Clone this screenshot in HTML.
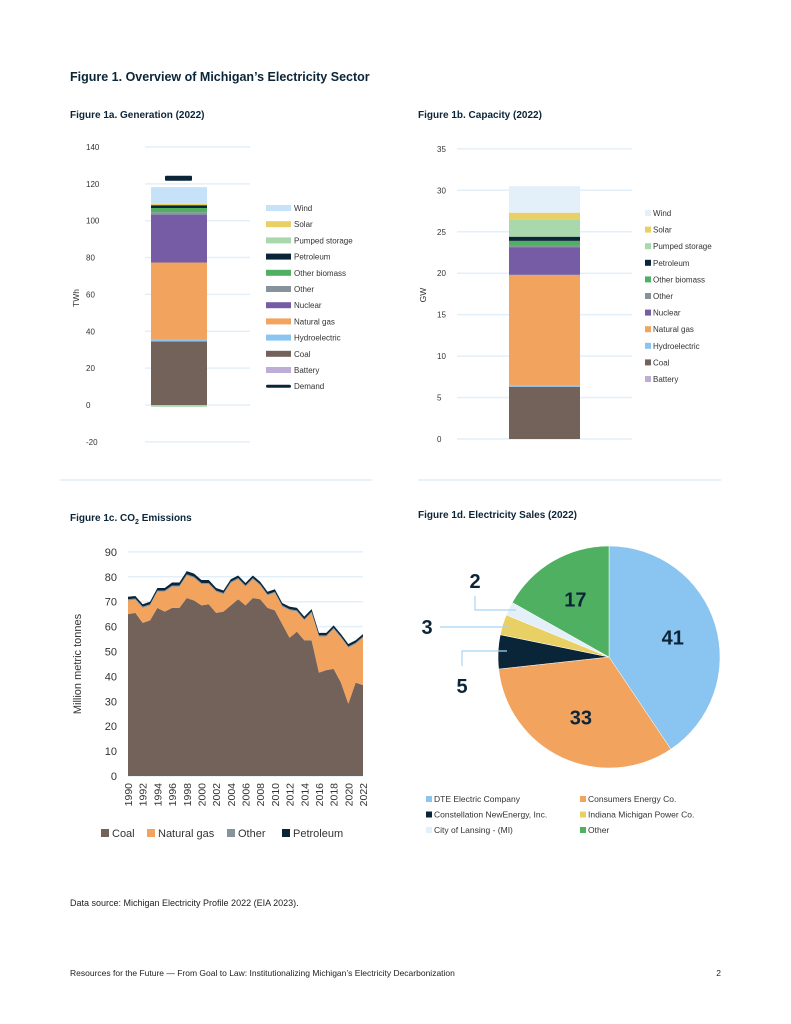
<!DOCTYPE html>
<html><head><meta charset="utf-8"><style>
body{margin:0;background:#fff;}
svg{display:block;font-family:"Liberation Sans",sans-serif;}
</style></head><body>
<svg id="s" width="791" height="1024" viewBox="0 0 791 1024">
<text x="70" y="81" font-size="12.5" font-weight="bold" fill="#0b2538">Figure 1. Overview of Michigan’s Electricity Sector</text>
<text x="70" y="118" font-size="10" font-weight="bold" fill="#0b2538">Figure 1a. Generation (2022)</text>
<text x="418" y="118" font-size="10" font-weight="bold" fill="#0b2538">Figure 1b. Capacity (2022)</text>
<text x="70" y="521" font-size="10" font-weight="bold" fill="#0b2538">Figure 1c. CO<tspan font-size="7" dy="3">2</tspan><tspan dy="-3"> Emissions</tspan></text>
<text x="418" y="518" font-size="10" font-weight="bold" fill="#0b2538">Figure 1d. Electricity Sales (2022)</text>
<line x1="60" y1="480" x2="372" y2="480" stroke="#d6e6f2"/>
<line x1="418" y1="480" x2="721" y2="480" stroke="#d6e6f2"/>
<g id="gen"></g><g id="cap"></g><g id="emi"></g><g id="pie"></g>
<text x="70" y="906" font-size="9" fill="#222">Data source: Michigan Electricity Profile 2022 (EIA 2023).</text>
<text x="70" y="976" font-size="8.5" fill="#222">Resources for the Future — From Goal to Law: Institutionalizing Michigan’s Electricity Decarbonization</text>
<text x="721" y="976" font-size="8.5" fill="#222" text-anchor="end">2</text>
</svg>
<script>
const NS="http://www.w3.org/2000/svg";
function mk(p,t,a){const e=document.createElementNS(NS,t);for(const k in a)e.setAttribute(k,a[k]);p.appendChild(e);return e;}
const srcNames=["Coal","Hydroelectric","Natural gas","Nuclear","Other","Other biomass","Petroleum","Pumped storage","Solar","Wind","Battery"];
const srcColors=["#72625a","#8ac4f0","#f2a35e","#765ca4","#87939b","#4fb062","#0b2538","#a8d8ac","#e8d065","#c6e2f8","#bcaed6"];
const genValues=[34.5,1.3,41.5,26,1.3,2.3,1.5,-1,0.8,9,0];
const genDemand=123;
const genTicks=[-20,0,20,40,60,80,100,120,140];
const capValues=[6.3,0.2,13.3,3.3,0.3,0.5,0.5,2.1,0.8,3.2,0];
const capTicks=[0,5,10,15,20,25,30,35];
const legendOrder=["Wind","Solar","Pumped storage","Petroleum","Other biomass","Other","Nuclear","Natural gas","Hydroelectric","Coal","Battery"];

function stackBar(g,vals,ticks,y0px,pxPer,gx1,gx2,bx,bw,axisLabel,lx,ly,leftTick,colors){
  const y=v=>y0px-v*pxPer;
  ticks.forEach(t=>{
    const l=mk(g,"line",{x1:gx1,x2:gx2,y1:y(t),y2:y(t),stroke:"#e3eff9","stroke-width":1.5});
    
    
    const tx=mk(g,"text",{x:leftTick,y:y(t)+3,"font-size":8,fill:"#333"});tx.textContent=t;
    
    
  });
  let pos=0,neg=0;
  vals.forEach((v,i)=>{
    if(v===0)return;
    let a,b;if(v>0){a=pos;b=pos+v;pos=b;}else{a=neg+v;b=neg;neg=a;}
    const r=mk(g,"rect",{x:bx,width:bw,y:y(b),height:y(a)-y(b),fill:colors[i]});
    
    
  });
  const at=mk(g,"text",{x:lx,y:ly,"font-size":8.5,fill:"#333",transform:`rotate(-90 ${lx} ${ly})`,"text-anchor":"middle"});at.textContent=axisLabel;
  
  
  return y;
}
const capColors=srcColors.slice();capColors[9]="#e3eff9";
// Generation
const gg=document.getElementById("gen");
const gy=stackBar(gg,genValues,genTicks,405,1.843,145,250,151,56,"TWh",79,298,86,srcColors);
const dm=mk(gg,"rect",{x:165,width:27,y:gy(genDemand)-2.5,height:5,rx:1,fill:"#0b2538"});


[...legendOrder,"Demand"].forEach((n,k)=>{
  const yy=208+k*16.2;const i=srcNames.indexOf(n);
  const sw=n==="Demand"?mk(gg,"rect",{x:266,y:yy-1.5,width:25,height:3,rx:1.5,fill:"#0b2538"}):mk(gg,"rect",{x:266,y:yy-3,width:25,height:6,fill:srcColors[i]});
  
  
  const t=mk(gg,"text",{x:294,y:yy+3,"font-size":8,fill:"#333"});t.textContent=n;
  
  
});
// Capacity
const cg=document.getElementById("cap");
stackBar(cg,capValues,capTicks,439,8.29,457,632,509,71,"GW",426,295,437,capColors);
legendOrder.forEach((n,k)=>{
  const yy=213+k*16.6;const i=srcNames.indexOf(n);
  const sw=mk(cg,"rect",{x:645,y:yy-3,width:6,height:6,fill:capColors[i]});
  
  
  const t=mk(cg,"text",{x:653,y:yy+3,"font-size":8,fill:"#333"});t.textContent=n;
  
  
});
// Emissions
const years=[];for(let yr=1990;yr<=2022;yr++)years.push(yr);
const emCoal=[65,65.5,61.5,62.5,67.5,66,67.5,67.5,71.5,70.5,68.5,69,65.5,66,68.5,71,68.5,71.5,71,67.5,66.5,61,55.5,58,54.5,54.5,41.5,42.5,43,37.5,29,37.5,36.5];
const emGas=[5.5,5.3,6,6,6.5,8,8.5,8.5,9,9,8.5,8,8.5,7,9,8,7.5,7.5,5.5,5,7,7,11,8,8,11,14.5,13.5,16,18,22.5,15.5,19];
const emOther=[0.5,0.5,0.5,0.5,0.5,0.5,0.5,0.5,0.5,0.5,0.5,0.5,0.5,0.5,0.5,0.5,0.5,0.5,0.5,0.5,0.5,0.5,0.5,0.5,0.5,0.5,0.5,0.5,0.5,0.5,0.5,0.5,0.5];
const emPetrol=[1,1,1,1,1,1,1.2,1.2,1.3,1.3,1.2,1.2,1,1,1,1,1,1,1,1,1,1,1,1,1,1,1,1,1,1,1,1,1];
const emTicks=[0,10,20,30,40,50,60,70,80,90];
const eg=document.getElementById("emi");
const ex=i=>128+i*(235/32), ey=v=>776-v*2.49;
emTicks.forEach(t=>{
  const l=mk(eg,"line",{x1:128,x2:363,y1:ey(t),y2:ey(t),stroke:"#e3eff9","stroke-width":1.5});
  
  
  const tx=mk(eg,"text",{x:117,y:ey(t)+4,"font-size":11,fill:"#333","text-anchor":"end"});tx.textContent=t;
  
  
});
const emSeries=[["coal",emCoal,"#72625a"],["natural-gas",emGas,"#f2a35e"],["other",emOther,"#87939b"],["petroleum",emPetrol,"#0b2538"]];
let base=years.map(()=>0);
emSeries.forEach(([nm,arr,c])=>{
  const top=base.map((b,i)=>b+arr[i]);
  let pts=top.map((v,i)=>ex(i)+","+ey(v));
  for(let i=years.length-1;i>=0;i--)pts.push(ex(i)+","+ey(base[i]));
  const p=mk(eg,"polygon",{points:pts.join(" "),fill:c});
  
  
  base=top;
});
years.forEach((yr,i)=>{if(i%2)return;
  const x=ex(i)+4,y=783;
  const t=mk(eg,"text",{x:x,y:y,"font-size":10.5,fill:"#333","text-anchor":"end",transform:`rotate(-90 ${x} ${y})`});t.textContent=yr;
  
  
});
const yt=mk(eg,"text",{x:81,y:664,"font-size":11,fill:"#333","text-anchor":"middle",transform:"rotate(-90 81 664)"});yt.textContent="Million metric tonnes";


[["Coal",101,"#72625a"],["Natural gas",147,"#f2a35e"],["Other",227,"#87939b"],["Petroleum",282,"#0b2538"]].forEach(([n,x,c])=>{
  const r=mk(eg,"rect",{x:x,y:829,width:8,height:8,fill:c});
  
  
  const t=mk(eg,"text",{x:x+11,y:837,"font-size":11,fill:"#333"});t.textContent=n;
  
  
});
// Pie
const pieNames=["DTE Electric Company","Consumers Energy Co.","Constellation NewEnergy, Inc.","Indiana Michigan Power Co.","City of Lansing - (MI)","Other"];
const pieValues=[41,33,5,3,2,17];
const pieColors=["#8ac4f0","#f2a35e","#0b2538","#e8d065","#e3eff9","#4fb062"];
const pg=document.getElementById("pie");
const cx=609,cy=657,R=111;
const tot=pieValues.reduce((a,b)=>a+b,0);
let ang=0;const mids=[];
pieValues.forEach((v,i)=>{
  const a0=ang,a1=ang+v/tot*2*Math.PI;ang=a1;mids.push((a0+a1)/2);
  const P=a=>[cx+R*Math.sin(a),cy-R*Math.cos(a)];
  const [x0,y0]=P(a0),[x1,y1]=P(a1);
  const p=mk(pg,"path",{d:`M${cx},${cy}L${x0},${y0}A${R},${R} 0 ${a1-a0>Math.PI?1:0} 1 ${x1},${y1}Z`,fill:pieColors[i],stroke:"#fff","stroke-width":0.5});
  
  
});
const inside=[0,1,5];
inside.forEach(i=>{
  const r=R*0.6,a=mids[i];
  const t=mk(pg,"text",{x:cx+r*Math.sin(a),y:cy-r*Math.cos(a)+7,"font-size":20,"font-weight":"bold",fill:"#0b2538","text-anchor":"middle"});t.textContent=pieValues[i];
  
  
});
const outs=[[2,"M507,651 L462,651 L462,666","462","693"],[3,"M510,627 L440,627","427","634"],[4,"M516,610 L475,610 L475,596","475","588"]];
outs.forEach(([i,d,tx,ty])=>{
  const l=mk(pg,"path",{d:d,fill:"none",stroke:"#a8d4f2","stroke-width":1.2});
  
  
  const t=mk(pg,"text",{x:tx,y:ty,"font-size":20,"font-weight":"bold",fill:"#0b2538","text-anchor":"middle"});t.textContent=pieValues[i];
  
  
});
pieNames.forEach((n,i)=>{
  const x=i%2?580:426,y=802+Math.floor(i/2)*15.5;
  const r=mk(pg,"rect",{x:x,y:y-6,width:6,height:6,fill:pieColors[i]});
  
  
  const t=mk(pg,"text",{x:x+8,y:y,"font-size":8.5,fill:"#333"});t.textContent=n;
  
  
});
</script>
</body></html>
